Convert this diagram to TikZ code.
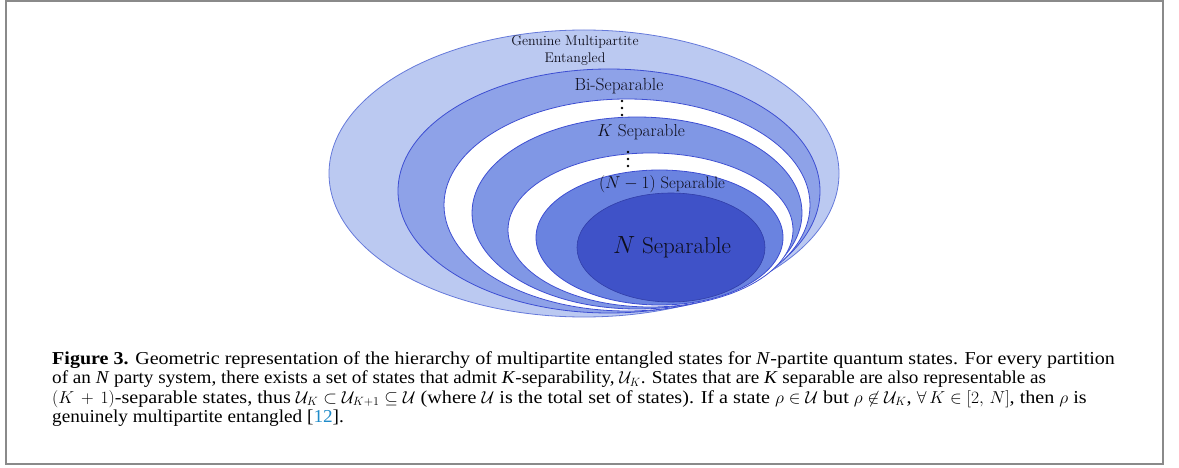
\documentclass[tikz,border=0pt]{standalone}
\usepackage{fontspec}
\usepackage{amssymb}
\newfontfamily\capfont[FakeStretch=1.09]{Liberation Serif}
\definecolor{ringA}{HTML}{BBC9F1}
\definecolor{ringB}{HTML}{8EA2E8}
\definecolor{ringK}{HTML}{8097E5}
\definecolor{ringM}{HTML}{6A83E0}
\definecolor{ringN}{HTML}{3F52C8}
\definecolor{edgeA}{HTML}{6579DA}
\definecolor{edgeB}{HTML}{3D4ED2}
\definecolor{frameg}{HTML}{8A8A8A}
\definecolor{refblue}{HTML}{1F8BC9}
\definecolor{txt}{HTML}{0E0E1C}
\begin{document}
\begin{tikzpicture}[x=1pt,y=-1pt,
  ringedge/.style={draw=edgeB,line width=0.8pt},
  lbl/.style={inner sep=0pt,text=txt},
  capline/.style={anchor=base west,inner sep=0pt,text height=12pt,text depth=4pt,
    font=\capfont\fontsize{18.2}{20}\selectfont},
  dotm/.style={fill=black,draw=none}]
\useasboundingbox (0,0) rectangle (1179,468);
\draw[frameg,line width=2pt] (6,1) rectangle (1163,464);
% ellipses
\path[fill=ringA,draw=edgeA,line width=0.8pt] (584,173.5) ellipse [x radius=255, y radius=143.5];
\path[fill=ringB,ringedge] (609,191) ellipse [x radius=211, y radius=122];
\path[fill=white,ringedge] (627,205) ellipse [x radius=183, y radius=106];
\path[fill=ringK,ringedge] (637,213) ellipse [x radius=165, y radius=96];
\path[fill=white,ringedge] (650.5,230) ellipse [x radius=142.5, y radius=77];
\path[fill=ringM,ringedge] (659.5,237.5) ellipse [x radius=123.5, y radius=67.5];
\path[fill=ringN,draw=edgeB!80!black,line width=0.6pt] (671,247.5) ellipse [x radius=94, y radius=54.5];
% labels
\node[lbl,align=center,font=\fontsize{14}{17}\selectfont] (gme) at (575,51) {Genuine Multipartite\\Entangled};
\node[lbl,font=\fontsize{17.5}{20}\selectfont] (bi) at (619,86) {Bi-Separable};
\node[lbl,font=\fontsize{17.3}{20}\selectfont] (ks) at (641,132) {$K$ Separable};
\node[lbl,font=\fontsize{16.6}{19}\selectfont] (nm) at (662,184) {$(N-1)$ Separable};
\node[lbl,font=\fontsize{23}{27}\selectfont] (ns) at (672,247) {$N$ Separable};
% vertical dots
\foreach \yy in {101,108,115} \fill[dotm] (622,\yy) circle [radius=1.4];
\foreach \yy in {152,159,166} \fill[dotm] (628,\yy) circle [radius=1.4];
% caption
\node[capline] (c1) at (52,364) {\scalebox{1.01}[1]{\textbf{Figure 3.} Geometric representation of the hierarchy of multipartite entangled states for \textit{N}-partite quantum states. For every partition}};
\node[capline] (c2) at (52,383.5) {\scalebox{0.965}[1]{of an \textit{N} party system, there exists a set of states that admit \textit{K}-separability, $\mathcal{U}_K$. States that are \textit{K} separable are also representable as}};
\node[capline] (c3) at (52,403) {\scalebox{1.015}[1]{$(K\,+\,1)$-separable states, thus $\mathcal{U}_K\subset\mathcal{U}_{K+1}\subseteq\mathcal{U}$ (where $\mathcal{U}$ is the total set of states). If a state $\rho\in\mathcal{U}$ but $\rho\not\in\mathcal{U}_K$, $\forall\,K\in[2,\,N]$, then $\rho$ is}};
\node[capline] (c4) at (52,422.5) {\scalebox{0.97}[1]{genuinely multipartite entangled [\textcolor{refblue}{12}].}};
\end{tikzpicture}
\end{document}
